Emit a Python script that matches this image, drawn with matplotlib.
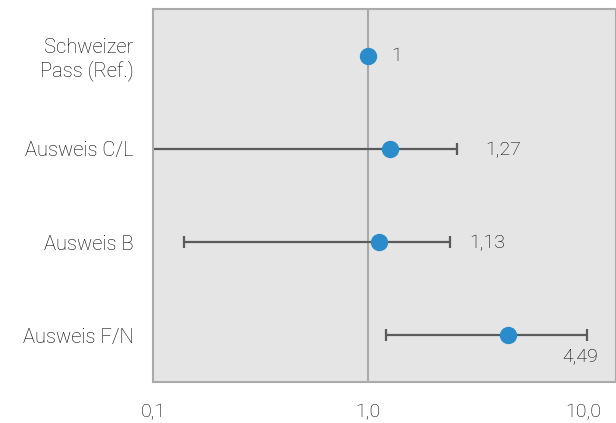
import matplotlib.pyplot as plt
import numpy as np

plt.rcParams['font.family'] = ['Roboto', 'DejaVu Sans']

categories = ["Schweizer\nPass (Ref.)", "Ausweis C/L", "Ausweis B", "Ausweis F/N"]
odds = [1.0, 1.27, 1.13, 4.49]
ci_low = [1.0, 0.05, 0.139, 1.21]
ci_high = [1.0, 2.59, 2.40, 10.44]
value_labels = ["1", "1,27", "1,13", "4,49"]

fig = plt.figure(figsize=(6.16, 4.23), dpi=100)
ax = fig.add_axes([153 / 616, 1 - 382 / 423, 1 - 153 / 616, (382 - 9) / 423])
ax.set_facecolor("#e5e5e5")

y = np.arange(len(categories))
ax.axvline(1.0, color="#aaaaaa", lw=1.5, zorder=1)

for i in range(len(categories)):
    if ci_low[i] != ci_high[i]:
        ax.errorbar(odds[i], y[i], xerr=[[odds[i] - ci_low[i]], [ci_high[i] - odds[i]]],
                    fmt="none", ecolor="#5a5a5a", elinewidth=1.6, capsize=4.5,
                    capthick=1.6, zorder=2)
ax.plot(odds, y, "o", color="#2b8ccc", ms=11.5, zorder=3)

# value labels
txt = dict(fontsize=14, color="#000000", fontweight="light",
           textcoords="offset points", va="center")
ax.annotate(value_labels[0], (odds[0], y[0]), xytext=(17, 0), ha="left", **txt)
ax.annotate(value_labels[1], (ci_high[1], y[1]), xytext=(33, -1), ha="center", **txt)
ax.annotate(value_labels[2], (ci_high[2], y[2]), xytext=(27, -1), ha="center", **txt)
ax.annotate(value_labels[3], (ci_high[3], y[3]), xytext=(-5, -15), ha="center", **txt)

ax.set_xscale("log")
ax.set_xlim(0.1, 10 ** 1.153)
ax.set_ylim(3.5, -0.5)
ax.set_xticks([0.1, 1, 10])
ax.set_xticklabels(["0,1", "1,0", "10,0"])
ax.xaxis.set_minor_locator(plt.NullLocator())
ax.set_yticks(y)
ax.set_yticklabels(categories)
ax.tick_params(length=0, labelsize=14.5, labelcolor="#000000")
ax.tick_params(axis="x", pad=15)
ax.tick_params(axis="y", pad=14)
for lbl in ax.get_xticklabels() + ax.get_yticklabels():
    lbl.set_fontweight("light")
for lbl in ax.get_xticklabels():
    lbl.set_fontsize(14)

for s in ax.spines.values():
    s.set_color("#aaaaaa")
    s.set_linewidth(1.5)

fig.savefig("out.png", dpi=100)
